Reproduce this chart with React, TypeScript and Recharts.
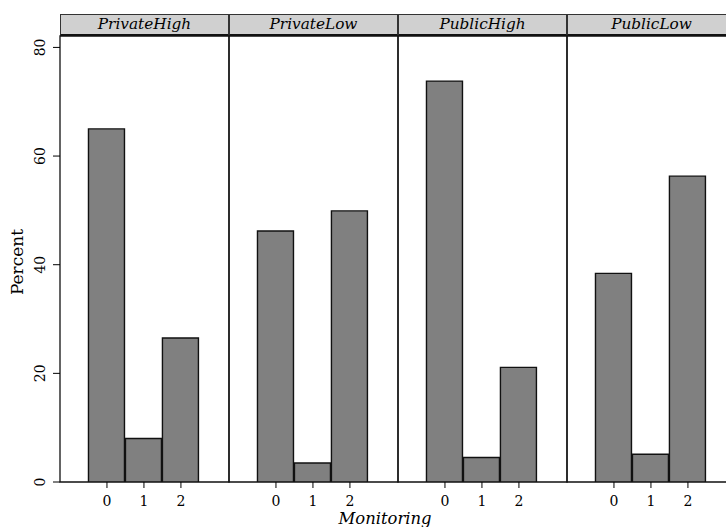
import React from "react";
import {
  Bar,
  BarChart,
  ReferenceArea,
  XAxis,
  YAxis,
} from "recharts";

const panels = ["PrivateHigh", "PrivateLow", "PublicHigh", "PublicLow"];
const monitoring = [0, 1, 2];
const privateHigh = [65.0, 8.0, 26.5];
const privateLow = [46.2, 3.5, 49.9];
const publicHigh = [73.8, 4.5, 21.1];
const publicLow = [38.4, 5.1, 56.3];
const yTicks = [0, 20, 40, 60, 80];

const seriesByPanel = [privateHigh, privateLow, publicHigh, publicLow];

const X_DOMAIN: [number, number] = [-1.27, 3.3];
const Y_DOMAIN: [number, number] = [0, 82.1];
const PANEL_W = 169;
const PLOT_LEFT = 60;
const PLOT_TOP = 36;
const PLOT_BOTTOM = 482;
const FONT = "'DejaVu Serif', serif";

function YTick(props: any) {
  const { x, y, payload } = props;
  return (
    <text
      x={x - 6}
      y={y}
      transform={`rotate(-90 ${x - 6} ${y})`}
      textAnchor="middle"
      fontSize={14}
      fontFamily={FONT}
      fill="#000"
    >
      {payload.value}
    </text>
  );
}

function Panel({ index }: { index: number }) {
  const values = seriesByPanel[index];
  const data = monitoring.map((m, i) => ({ m, pct: values[i] }));
  const first = index === 0;
  const pad = 2;
  const left = first ? 0 : PLOT_LEFT + PANEL_W * index - pad;
  const width = first ? PLOT_LEFT + PANEL_W + pad : PANEL_W + pad * 2;

  return (
    <div style={{ position: "absolute", left, top: 0 }}>
      <BarChart
        width={width}
        height={527}
        data={data}
        margin={{ top: PLOT_TOP, right: pad, bottom: 0, left: first ? 0 : pad }}
        barCategoryGap={0}
      >
        <XAxis
          dataKey="m"
          type="number"
          domain={X_DOMAIN}
          allowDataOverflow
          ticks={monitoring}
          height={527 - PLOT_BOTTOM}
          tickSize={6}
          tickMargin={8}
          axisLine={false}
          tickLine={{ stroke: "#000" }}
          tick={{ fill: "#000", fontSize: 14, fontFamily: FONT }}
          interval={0}
        />
        <YAxis
          hide={!first}
          domain={Y_DOMAIN}
          ticks={yTicks}
          width={PLOT_LEFT}
          tickSize={7}
          axisLine={false}
          tickLine={{ stroke: "#000" }}
          tick={<YTick />}
          interval={0}
          allowDataOverflow
        />
        <ReferenceArea
          x1={X_DOMAIN[0]}
          x2={X_DOMAIN[1]}
          y1={Y_DOMAIN[0]}
          y2={Y_DOMAIN[1]}
          fill="none"
          stroke="#111"
          strokeWidth={1.3}
          ifOverflow="visible"
        />
        <Bar
          dataKey="pct"
          fill="#808080"
          stroke="#111"
          strokeWidth={1.4}
          barSize={36}
          isAnimationActive={false}
        />
      </BarChart>
    </div>
  );
}

export default function App() {
  return (
    <div
      style={{
        position: "absolute",
        left: 0,
        top: 0,
        width: 726,
        height: 527,
        overflow: "hidden",
        background: "#fff",
        fontFamily: FONT,
      }}
    >
      {panels.map((name, i) => (
        <Panel key={name} index={i} />
      ))}
      {panels.map((name, i) => (
        <div
          key={`strip-${name}`}
          style={{
            position: "absolute",
            left: PLOT_LEFT + PANEL_W * i,
            top: 14,
            width: PANEL_W,
            height: 22,
            boxSizing: "border-box",
            background: "#d0d0d0",
            border: "1px solid #333",
            borderBottom: "2px solid #111",
            textAlign: "center",
            fontStyle: "italic",
            fontSize: 15.3,
            lineHeight: "19px",
            color: "#000",
          }}
        >
          {name}
        </div>
      ))}
      <div
        style={{
          position: "absolute",
          left: 17,
          top: 262,
          transform: "translate(-50%, -50%) rotate(-90deg)",
          fontSize: 17,
          whiteSpace: "nowrap",
        }}
      >
        Percent
      </div>
      <div
        style={{
          position: "absolute",
          left: 385,
          top: 518,
          transform: "translate(-50%, -50%)",
          fontSize: 16.4,
          fontStyle: "italic",
          whiteSpace: "nowrap",
        }}
      >
        Monitoring
      </div>
    </div>
  );
}
